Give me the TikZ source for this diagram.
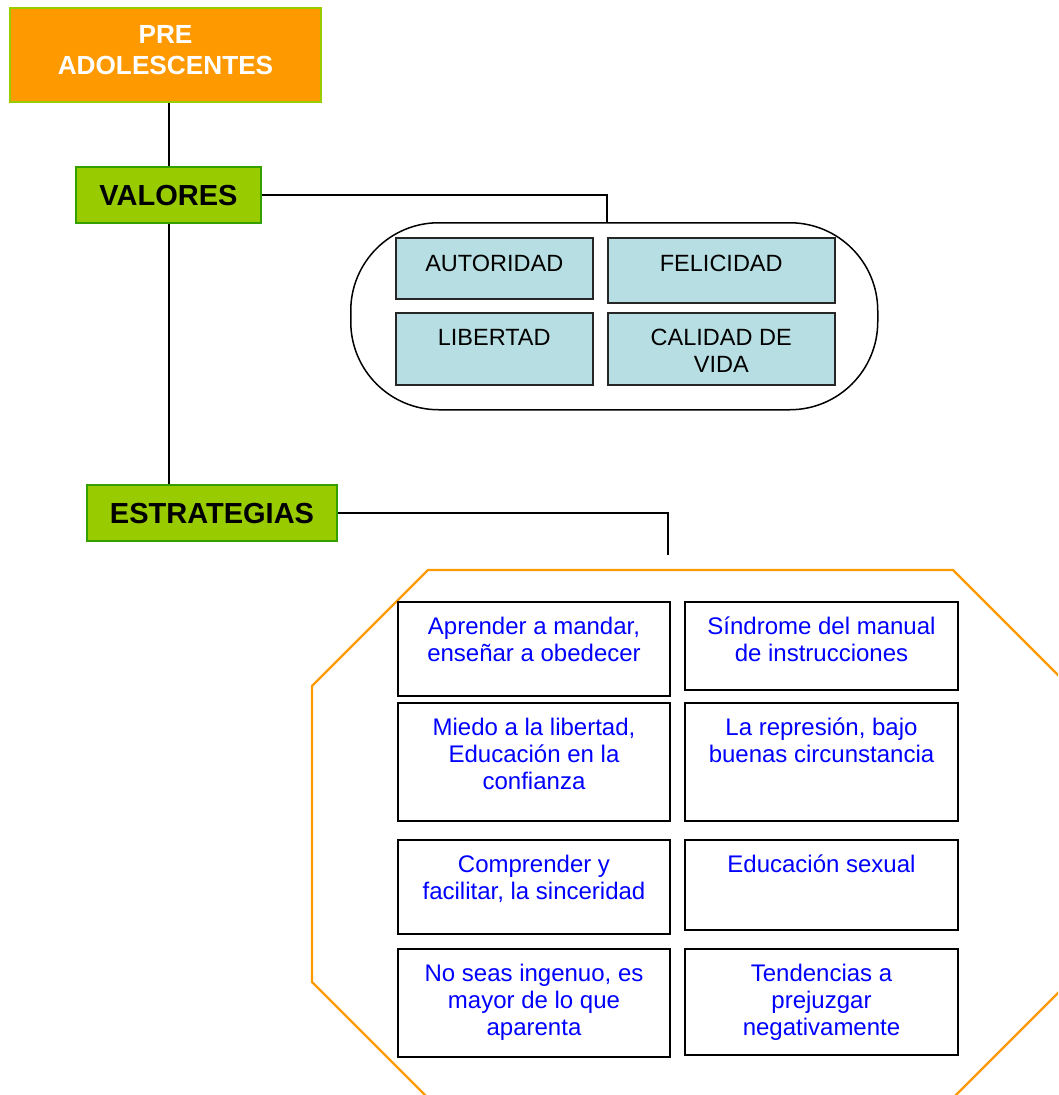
\documentclass[tikz,border=0pt]{standalone}
\usepackage{fontspec}
\setmainfont{Liberation Sans}

\definecolor{preorange}{RGB}{255,153,0}
\definecolor{limeedge}{RGB}{153,204,0}
\definecolor{valgreen}{RGB}{153,204,0}
\definecolor{valedge}{RGB}{51,160,0}
\definecolor{valuefill}{RGB}{183,222,226}
\definecolor{stratblue}{RGB}{0,0,255}
\definecolor{octorange}{RGB}{255,153,0}

% box of fixed size whose text starts near the top edge
\newcommand\toptext[4]{\parbox[c][#2][t]{#1}{\centering\vspace*{#3}\strut #4\par}}

\begin{document}
\begin{tikzpicture}[x=1pt,y=-1pt,
  headbox/.style={draw=limeedge, line width=2pt, fill=preorange, inner sep=0pt,
    anchor=north west, text=white, font=\fontsize{26.2}{31}\selectfont\bfseries},
  catbox/.style={draw=valedge, line width=2pt, fill=valgreen, inner sep=0pt,
    anchor=north west, font=\fontsize{29}{34}\selectfont\bfseries,
    text height=20.8pt, text depth=0pt},
  valuebox/.style={draw=black!85, line width=1.5pt, fill=valuefill, inner sep=0pt,
    anchor=north west, font=\fontsize{23.5}{27}\selectfont},
  stratbox/.style={draw=black, line width=2pt, fill=white, inner sep=0pt,
    anchor=north west, text=stratblue, font=\fontsize{24}{27}\selectfont},
  container/.style={draw=black, line width=1.5pt, inner sep=0pt, anchor=north west},
  conn/.style={draw=black, line width=1.5pt},
  octline/.style={draw=octorange, line width=2.2pt, line join=miter}
]
\clip (0,0) rectangle (1058,1095);
\useasboundingbox (0,0) rectangle (1058,1095);

% ---- top of the hierarchy ----
\node[headbox] (pre) at (9,7)
  {\toptext{311pt}{94pt}{14pt}{PRE\\ADOLESCENTES}};
\node[catbox, minimum width=185pt, minimum height=56pt] (val) at (75,166) {VALORES};
\node[catbox, minimum width=250pt, minimum height=56pt] (est) at (86,484) {ESTRATEGIAS};

\coordinate (trunk) at (169,0);
\draw[conn] (pre.south -| trunk) -- (val.north -| trunk);
\draw[conn] (val.south -| trunk) -- (est.north -| trunk);

% ---- values group ----
\node[container, rounded corners=88pt, minimum width=527pt, minimum height=187pt]
  (vcont) at (350,222) {};
\coordinate (vdrop) at (607,0);
\draw[conn] (val.east) -| (vdrop |- vcont.north);

\node[valuebox] (autoridad) at (395,237) {\toptext{197pt}{61pt}{15pt}{AUTORIDAD}};
\node[valuebox] (felicidad) at (607,237) {\toptext{227pt}{65pt}{15pt}{FELICIDAD}};
\node[valuebox] (libertad)  at (395,312) {\toptext{197pt}{72pt}{14pt}{LIBERTAD}};
\node[valuebox] (calidad)   at (607,312) {\toptext{227pt}{72pt}{14pt}{CALIDAD DE\\VIDA}};

% ---- strategies group ----
\coordinate (efree) at (668,555);
\draw[conn] (est.east) -| (efree);

\draw[octline] (428,570) -- (953,570) -- (1069,686) -- (1069,982)
  -- (953,1098) -- (428,1098) -- (312,982) -- (312,686) -- cycle;

\node[stratbox] (s11) at (397,601)
  {\toptext{272pt}{94pt}{14pt}{Aprender a mandar,\\enseñar a obedecer}};
\node[stratbox] (s12) at (684,601)
  {\toptext{273pt}{88pt}{14pt}{Síndrome del manual\\de instrucciones}};
\node[stratbox] (s21) at (397,702)
  {\toptext{272pt}{118pt}{14pt}{Miedo a la libertad,\\Educación en la\\confianza}};
\node[stratbox] (s22) at (684,702)
  {\toptext{273pt}{118pt}{14pt}{La represión, bajo\\buenas circunstancia}};
\node[stratbox] (s31) at (397,839)
  {\toptext{272pt}{94pt}{14pt}{Comprender y\\facilitar, la sinceridad}};
\node[stratbox] (s32) at (684,839)
  {\toptext{273pt}{90pt}{14pt}{Educación sexual}};
\node[stratbox] (s41) at (397,948)
  {\toptext{272pt}{108pt}{14pt}{No seas ingenuo, es\\mayor de lo que\\aparenta}};
\node[stratbox] (s42) at (684,948)
  {\toptext{273pt}{106pt}{14pt}{Tendencias a\\prejuzgar\\negativamente}};
\end{tikzpicture}
\end{document}
